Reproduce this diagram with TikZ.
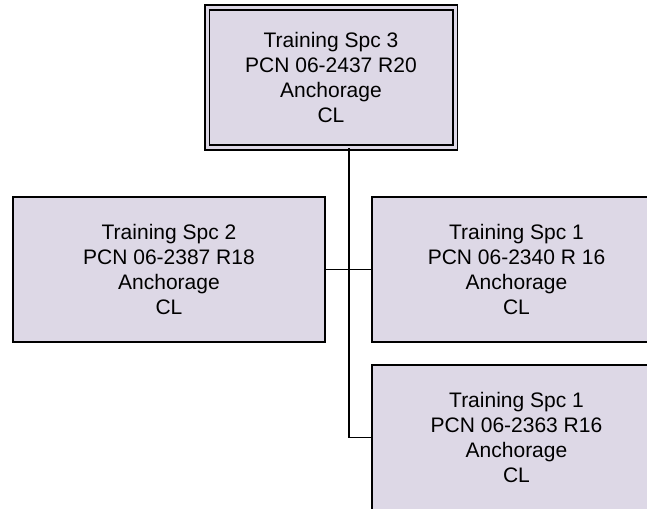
\documentclass[tikz,border=0pt]{standalone}
\usepackage{fontspec}
\setmainfont{Liberation Sans}
\definecolor{boxfill}{RGB}{221,216,230}
\begin{document}
\begin{tikzpicture}[x=1pt,y=-1pt,
  orgbox/.style={draw=black, fill=boxfill, line width=1.8pt, rectangle, inner sep=0pt,
    align=center, font=\fontsize{21}{25}\selectfont},
  link/.style={draw=black, line width=1.8pt}]
\useasboundingbox (0,0) rectangle (647,508);
\clip (0,0) rectangle (647,508);
\node[orgbox, minimum width=248pt, minimum height=140pt, double=boxfill, double distance=3pt, line width=1.6pt] (t) at (331,77.5)
  {Training Spc 3\\PCN 06-2437 R20\\Anchorage\\CL};
\node[orgbox, minimum width=312pt, minimum height=145pt] (l) at (169,269.5)
  {Training Spc 2\\PCN 06-2387 R18\\Anchorage\\CL};
\node[orgbox, minimum width=289pt, minimum height=145pt] (r) at (516.5,269.5)
  {Training Spc 1\\PCN 06-2340 R 16\\Anchorage\\CL};
\node[orgbox, minimum width=289pt, minimum height=145pt] (b) at (516.5,437.5)
  {Training Spc 1\\PCN 06-2363 R16\\Anchorage\\CL};
\coordinate (j1) at (349,269.5);
\coordinate (j2) at (349,437.5);
\draw[link] (t.south -| j1) -- (j2) -- (b.west);
\draw[link] (l.east) -- (r.west);
\end{tikzpicture}
\end{document}
